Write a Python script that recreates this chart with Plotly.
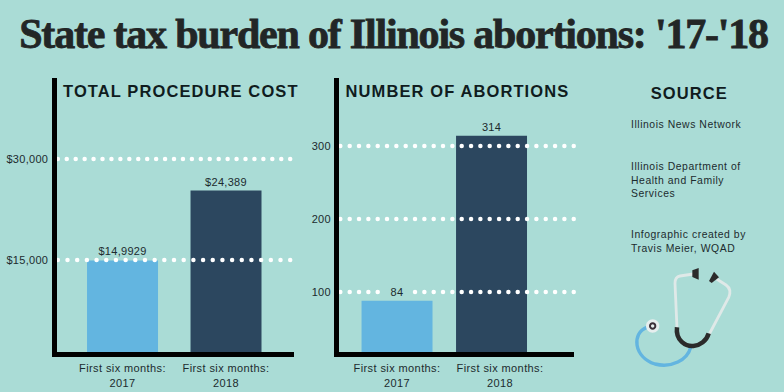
import re
import numpy as np
import plotly.graph_objects as go

W, H = 784, 392
BG = "#aadcd6"
INK = "#1c2b2e"
FONT = "Liberation Sans"
LIGHT, DARK = "#63b5e0", "#2c475f"

# Chart data
bar_colors = [LIGHT, DARK]
cost_bar_values = [14929, 25322]      # heights as drawn in the picture
cost_labels = ["$14,9929", "$24,389"]
cost_ticks = [15000, 30000]
cost_ticktext = ["$15,000", "$30,000"]
count_bar_values = [88, 314]
count_labels = ["84", "314"]
count_ticks = [100, 200, 300]
count_ticktext = ["100", "200", "300"]
period_labels = ["First six months:<br>2017", "First six months:<br>2018"]


def px(x):
    return x / W


def py(y):
    return 1 - y / H


def path(d):
    """Convert an SVG path written in pixels into paper coordinates."""
    def conv(m):
        return f"{px(float(m.group(1))):.5f},{py(float(m.group(2))):.5f}"
    return re.sub(r"(-?[\d.]+),(-?[\d.]+)", conv, d)


fig = go.Figure()

# Bars
fig.add_trace(go.Bar(x=[0, 1], y=cost_bar_values, width=0.686, marker=dict(color=bar_colors, line_width=0),
                     text=cost_labels, textposition="outside", cliponaxis=False,
                     textfont=dict(size=11, color=INK), xaxis="x", yaxis="y"))
fig.add_trace(go.Bar(x=[0, 1], y=count_bar_values, width=0.751, marker=dict(color=bar_colors, line_width=0),
                     text=count_labels, textposition="outside", cliponaxis=False,
                     textfont=dict(size=11, color=INK), xaxis="x2", yaxis="y2"))

# Dotted white gridlines, on top of the bars
for ticks, counts, xr, ax in [
    (cost_ticks, [25, 27], (-0.625, 1.62), ("x", "y")),
    (count_ticks, [26, 26, 26], (-0.60, 1.87), ("x2", "y2")),
]:
    for t, n in zip(ticks, counts):
        xs = np.linspace(xr[0], xr[1], n)
        if ax[0] == "x2" and t == 100:
            # the reference's dots leave room for the "84" label
            xs = xs[np.abs(xs) > 0.17]
        fig.add_trace(go.Scatter(x=xs, y=[t] * len(xs), mode="markers",
                                 marker=dict(color="white", size=4.5, line_width=0),
                                 cliponaxis=False, xaxis=ax[0], yaxis=ax[1], hoverinfo="skip"))

axis_common = dict(showgrid=False, zeroline=False, showline=True, linecolor="black", linewidth=5.4,
                   ticks="", tickfont=dict(family=FONT, size=11, color=INK))

fig.update_layout(
    width=W, height=H, margin=dict(l=0, r=0, t=0, b=0), autosize=False,
    paper_bgcolor=BG, plot_bgcolor=BG, showlegend=False,
    font=dict(family=FONT, color=INK),
    xaxis=dict(domain=[px(56.7), px(293.7)], range=[-0.636, 1.654], tickmode="array", ticklabelstandoff=2,
               tickvals=[0, 1], ticktext=period_labels, anchor="y", **axis_common),
    yaxis=dict(domain=[py(352), py(78.3)], range=[1337, 41985], tickmode="array", ticklabelstandoff=1,
               tickvals=cost_ticks, ticktext=cost_ticktext, anchor="x", **axis_common),
    xaxis2=dict(domain=[px(339.3), px(574.3)], range=[-0.611, 1.876], tickmode="array", ticklabelstandoff=2,
                tickvals=[0, 1.09], ticktext=period_labels, anchor="y2", **axis_common),
    yaxis2=dict(domain=[py(352), py(78.3)], range=[17.8, 392.7], tickmode="array", ticklabelstandoff=1,
                tickvals=count_ticks, ticktext=count_ticktext, anchor="x2", **axis_common),
)


def note(text, x, y, size, bold=False, family=FONT, color=INK, anchor="center"):
    fig.add_annotation(text=f"<b>{text}</b>" if bold else text, x=px(x), y=py(y), xref="paper", yref="paper",
                       xanchor=anchor, yanchor="middle", align=anchor if anchor != "center" else "center",
                       showarrow=False, font=dict(size=size, family=family, color=color))


note("State tax burden of Illinois abortions: '17-'18", 393, 34, 42, True, "Liberation Serif", "#222626")
note("TOTAL PROCEDURE COST", 181, 91, 16.5, True, color="#101c1e")
note("NUMBER OF ABORTIONS", 457, 90.5, 16.5, True, color="#101c1e")
note("SOURCE", 689, 93.5, 16.5, True, color="#101c1e")
note("Illinois News Network", 628.5, 124, 10.4, anchor="left")
note("Illinois Department of<br>Health and Family<br>Services", 628.5, 179.5, 10.4, anchor="left")
note("Infographic created by<br>Travis Meier, WQAD", 628.5, 241.5, 10.4, anchor="left")


# Stethoscope decoration (pixel coordinates)
def Z(x, y):
    return f"{600 + x / 3:.2f},{70 + y / 3:.2f}"


def stroke(d, color, width):
    fig.add_shape(type="path", path=path(d), xref="paper", yref="paper", line=dict(color=color, width=width),
                  layer="above")


def fill(d, color):
    fig.add_shape(type="path", path=path(d), xref="paper", yref="paper", line_width=0, fillcolor=color,
                  layer="above")


def circ(x, y, r):
    k = 0.5523 * r
    return (f"M{Z(x - r, y)} C{Z(x - r, y - k)} {Z(x - k, y - r)} {Z(x, y - r)} "
            f"C{Z(x + k, y - r)} {Z(x + r, y - k)} {Z(x + r, y)} "
            f"C{Z(x + r, y + k)} {Z(x + k, y + r)} {Z(x, y + r)} "
            f"C{Z(x - k, y + r)} {Z(x - r, y + k)} {Z(x - r, y)} Z")


stroke(f"M{Z(140, 772)} C{Z(95, 790)} {Z(100, 860)} {Z(165, 882)} C{Z(215, 895)} {Z(262, 870)} {Z(272, 832)}",
       LIGHT, 3.4)
stroke(f"M{Z(280, 612)} L{Z(240, 618)} C{Z(228, 620)} {Z(225, 628)} {Z(225, 640)} L{Z(231, 775)}", "#dfe9e8", 2.8)
stroke(f"M{Z(350, 627)} L{Z(378, 645)} C{Z(392, 655)} {Z(392, 668)} {Z(386, 682)} L{Z(328, 792)}", "#dfe9e8", 2.8)
stroke(f"M{Z(231, 772)} C{Z(226, 812)} {Z(258, 830)} {Z(280, 828)} C{Z(300, 826)} {Z(320, 812)} {Z(326, 790)}",
       "#2b2b2b", 4.5)
fill(f"M{Z(277, 601)} L{Z(296, 594)} L{Z(296, 629)} L{Z(277, 621)} Z", "#2b2b2b")
fill(f"M{Z(327, 633)} L{Z(342, 605)} L{Z(357, 622)} L{Z(335, 639)} Z", "#2b2b2b")
fill(circ(158, 768, 20), "#e6eeee")
fill(circ(158, 768, 11), "#3a2f38")
fill(circ(158, 768, 5), "#e6eeee")

post = """
document.body.style.margin = '0';
document.querySelectorAll('.annotation-text').forEach(function (t) {
  var s = t.textContent;
  if (s.indexOf('State tax') === 0) {
    t.style.letterSpacing = '-1.2px';
    t.style.stroke = '#222626';
    t.style.strokeWidth = '0.8px';
    return;
  }
  t.style.letterSpacing = (s === s.toUpperCase()) ? '1.1px' : '0.55px';
});
document.querySelectorAll('.xtick text, .x2tick text').forEach(function (t) {
  t.style.letterSpacing = '0.4px';
});
document.querySelectorAll('.ytick text, .y2tick text, text.bartext').forEach(function (t) {
  t.style.letterSpacing = '0.3px';
});
"""
fig.write_html("out.html", post_script=post, config={"displayModeBar": False})
